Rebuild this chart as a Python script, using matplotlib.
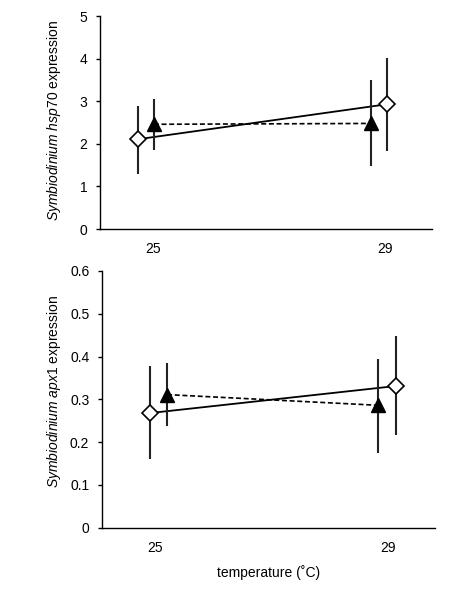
import numpy as np
import matplotlib
matplotlib.use("Agg")
import matplotlib.pyplot as plt

plt.rcParams['font.family'] = ['Liberation Sans', 'DejaVu Sans']
plt.rcParams['mathtext.fontset'] = 'custom'
plt.rcParams['mathtext.rm'] = 'Liberation Sans'
plt.rcParams['mathtext.it'] = 'Liberation Sans:italic'

# temperatures (x positions are slightly jittered so the two groups don't overlap)
temps = [25, 29]
x_diamond_hsp = [24.74, 29.03]
x_triangle_hsp = [25.01, 28.75]
x_diamond_apx = [24.91, 29.14]
x_triangle_apx = [25.20, 28.84]

# hsp70 expression (mean, lower, upper)
hsp_diamond = [2.11, 2.93]
hsp_diamond_lo = [1.29, 1.83]
hsp_diamond_hi = [2.89, 4.01]
hsp_triangle = [2.46, 2.48]
hsp_triangle_lo = [1.86, 1.48]
hsp_triangle_hi = [3.05, 3.50]

# apx1 expression (mean, lower, upper)
apx_diamond = [0.268, 0.331]
apx_diamond_lo = [0.160, 0.217]
apx_diamond_hi = [0.378, 0.447]
apx_triangle = [0.311, 0.286]
apx_triangle_lo = [0.238, 0.175]
apx_triangle_hi = [0.384, 0.394]

fig = plt.figure(figsize=(4.66, 5.98), dpi=100)
ax1 = fig.add_axes([0.2146, 0.617, 0.7124, 0.356])
ax2 = fig.add_axes([0.219, 0.1175, 0.714, 0.4295])

def draw(ax, xd, d, dlo, dhi, xt, t, tlo, thi):
    d, dlo, dhi = np.array(d), np.array(dlo), np.array(dhi)
    t, tlo, thi = np.array(t), np.array(tlo), np.array(thi)
    ax.plot(xd, d, color='black', lw=1.3, zorder=2)
    ax.plot(xt, t, color='black', lw=1.2, ls=(0, (3, 1.6)), zorder=2)
    ax.errorbar(xd, d, yerr=[d - dlo, dhi - d], fmt='none', ecolor='#222222',
                elinewidth=1.5, capsize=0, zorder=3)
    ax.errorbar(xt, t, yerr=[t - tlo, thi - t], fmt='none', ecolor='#222222',
                elinewidth=1.5, capsize=0, zorder=3)
    ax.plot(xd, d, ls='none', marker='D', ms=7.8, mfc='white', mec='black',
            mew=1.2, zorder=4)
    ax.plot(xt, t, ls='none', marker='^', ms=10, mfc='black', mec='black',
            zorder=4)
    ax.set_xlim(24.08, 29.81)
    ax.set_xticks(temps)
    ax.set_xticklabels([str(v) for v in temps])
    ax.spines['top'].set_visible(False)
    ax.spines['right'].set_visible(False)
    for s in ['left', 'bottom']:
        ax.spines[s].set_linewidth(1.0)
    ax.tick_params(axis='x', length=0, pad=9.5, labelsize=10)
    ax.tick_params(axis='y', direction='out', length=3.2, width=1.0, pad=6,
                   labelsize=10)

draw(ax1, x_diamond_hsp, hsp_diamond, hsp_diamond_lo, hsp_diamond_hi,
     x_triangle_hsp, hsp_triangle, hsp_triangle_lo, hsp_triangle_hi)
ax1.set_ylim(0, 5)
ax1.set_yticks([0, 1, 2, 3, 4, 5])
ax1.set_ylabel(r'$\mathit{Symbiodinium\ hsp70}$ expression', fontsize=10)
ax1.yaxis.set_label_coords(-0.112, 0.51)

draw(ax2, x_diamond_apx, apx_diamond, apx_diamond_lo, apx_diamond_hi,
     x_triangle_apx, apx_triangle, apx_triangle_lo, apx_triangle_hi)
ax2.set_ylim(0, 0.6)
ax2.set_yticks([0, 0.1, 0.2, 0.3, 0.4, 0.5, 0.6])
ax2.set_yticklabels(['0', '0.1', '0.2', '0.3', '0.4', '0.5', '0.6'])
ax2.set_ylabel(r'$\mathit{Symbiodinium\ apx1}$ expression', fontsize=10)
ax2.yaxis.set_label_coords(-0.117, 0.53)
ax2.set_xlabel('temperature (˚C)', fontsize=10, labelpad=7)

fig.savefig('out.png', dpi=100)
